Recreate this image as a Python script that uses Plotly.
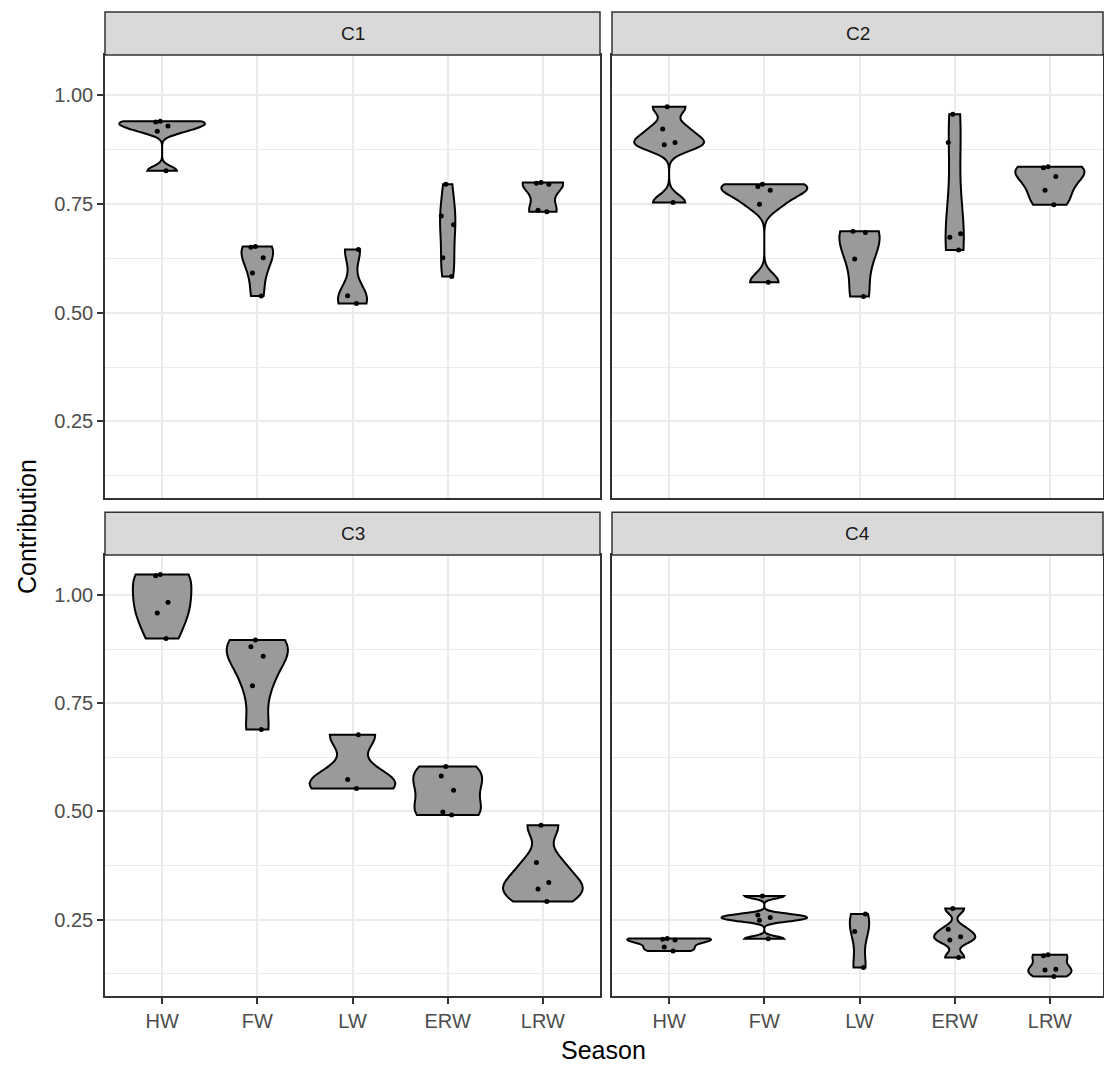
import numpy as np
import plotly.graph_objects as go
from plotly.subplots import make_subplots

seasons = ["HW", "FW", "LW", "ERW", "LRW"]
panels = ["C1", "C2", "C3", "C4"]

c1_values = {
    "HW": [0.940, 0.938, 0.929, 0.917, 0.826],
    "FW": [0.652, 0.650, 0.626, 0.591, 0.538],
    "LW": [0.645, 0.539, 0.521],
    "ERW": [0.795, 0.722, 0.702, 0.626, 0.583],
    "LRW": [0.799, 0.797, 0.795, 0.735, 0.732],
}
c2_values = {
    "HW": [0.973, 0.922, 0.891, 0.886, 0.753],
    "FW": [0.795, 0.790, 0.781, 0.749, 0.570],
    "LW": [0.687, 0.684, 0.623, 0.537],
    "ERW": [0.956, 0.891, 0.681, 0.673, 0.644],
    "LRW": [0.835, 0.833, 0.813, 0.781, 0.748],
}
c3_values = {
    "HW": [1.047, 1.044, 0.983, 0.958, 0.899],
    "FW": [0.896, 0.880, 0.858, 0.790, 0.689],
    "LW": [0.677, 0.574, 0.553],
    "ERW": [0.604, 0.582, 0.549, 0.499, 0.492],
    "LRW": [0.468, 0.382, 0.336, 0.321, 0.292],
}
c4_values = {
    "HW": [0.207, 0.205, 0.203, 0.187, 0.178],
    "FW": [0.305, 0.261, 0.255, 0.249, 0.206],
    "LW": [0.263, 0.223, 0.140],
    "ERW": [0.276, 0.228, 0.211, 0.203, 0.163],
    "LRW": [0.169, 0.167, 0.136, 0.134, 0.119],
}
y_ticks = [0.25, 0.50, 0.75, 1.00]
y_minor = [0.125, 0.375, 0.625, 0.875]

panel_data = [c1_values, c2_values, c3_values, c4_values]
positions = [(1, 1), (1, 2), (2, 1), (2, 2)]


def bw_nrd0(x):
    x = np.asarray(x, dtype=float)
    hi = x.std(ddof=1)
    q75, q25 = np.percentile(x, [75, 25])
    lo = min(hi, (q75 - q25) / 1.34)
    if lo == 0:
        lo = hi if hi > 0 else (abs(x[0]) if x[0] != 0 else 1.0)
    return 0.9 * lo * len(x) ** (-0.2)


def max_density(x, bw):
    x = np.asarray(x, dtype=float)
    grid = np.linspace(x.min(), x.max(), 512)
    d = np.exp(-0.5 * ((grid[:, None] - x[None, :]) / bw) ** 2).sum(axis=1)
    d = d / (len(x) * bw * np.sqrt(2 * np.pi))
    return d.max()


FONT = "Liberation Sans, Arial, sans-serif"
GRID = "#EBEBEB"
DARK = "#333333"

fig = make_subplots(rows=2, cols=2)

for pdata, (r, c) in zip(panel_data, positions):
    bws = {s: bw_nrd0(pdata[s]) for s in seasons}
    mds = {s: max_density(pdata[s], bws[s]) for s in seasons}
    mmax = max(mds.values())
    for s in seasons:
        w = 0.9 * mds[s] / mmax
        fig.add_trace(
            go.Violin(
                x=[s] * len(pdata[s]),
                y=pdata[s],
                bandwidth=bws[s],
                spanmode="hard",
                scalemode="width",
                width=w,
                fillcolor="#9A9A9A",
                line=dict(color="black", width=2),
                opacity=1,
                points="all",
                pointpos=0,
                jitter=min(1.0, 0.16 / w),
                marker=dict(color="black", size=5, line=dict(width=0)),
                box_visible=False,
                meanline_visible=False,
                showlegend=False,
                hoverinfo="y",
            ),
            row=r,
            col=c,
        )

W_PX = 998.0
left_dom = [0, 495 / W_PX]
right_dom = [507 / W_PX, 1]
top_dom = [(996 - 498) / 996, (996 - 55) / 996]
bot_dom = [0, (996 - 555) / 996]
unit_px = 495 / 5.2
right_range = [-0.6, -0.6 + (W_PX - 507) / unit_px]

axis_map = {
    (1, 1): ("xaxis", "yaxis", left_dom, top_dom),
    (1, 2): ("xaxis2", "yaxis2", right_dom, top_dom),
    (2, 1): ("xaxis3", "yaxis3", left_dom, bot_dom),
    (2, 2): ("xaxis4", "yaxis4", right_dom, bot_dom),
}

for (r, c), (xa, ya, xd, yd) in axis_map.items():
    show_x = r == 2
    show_y = c == 1
    fig.layout[xa].update(
        domain=xd,
        type="category",
        categoryorder="array",
        categoryarray=seasons,
        range=[-0.6, 4.6] if c == 1 else right_range,
        showgrid=True,
        gridcolor=GRID,
        gridwidth=1.6,
        zeroline=False,
        showline=True,
        mirror=True,
        linecolor=DARK,
        linewidth=1.5,
        ticks="outside" if show_x else "",
        ticklen=6,
        tickwidth=1.5,
        tickcolor=DARK,
        showticklabels=show_x,
        tickfont=dict(family=FONT, size=20, color="#4D4D4D"),
    )
    fig.layout[ya].update(
        domain=yd,
        range=[0.074, 1.092],
        tickvals=y_ticks,
        ticktext=[f"{v:.2f}" for v in y_ticks],
        showgrid=True,
        gridcolor=GRID,
        gridwidth=1.6,
        minor=dict(tickvals=y_minor, showgrid=True, gridcolor=GRID, gridwidth=0.9, ticks=""),
        zeroline=False,
        showline=True,
        mirror=True,
        linecolor=DARK,
        linewidth=1.5,
        ticks="outside" if show_y else "",
        ticklen=6,
        tickwidth=1.5,
        tickcolor=DARK,
        showticklabels=show_y,
        tickfont=dict(family=FONT, size=20, color="#4D4D4D"),
    )

# Facet strips
strip_top = 1 + 43 / 443
for name, (xa, ya, xd, yd) in zip(panels, axis_map.values()):
    xr = xa.replace("axis", "") + " domain"
    yr = ya.replace("axis", "") + " domain"
    fig.add_shape(
        type="rect", xref=xr, yref=yr, x0=0, x1=1, y0=1, y1=strip_top,
        fillcolor="#D9D9D9", line=dict(color=DARK, width=1.5), layer="above",
    )
    fig.add_annotation(
        xref=xr, yref=yr, x=0.5, y=(1 + strip_top) / 2, text=name, showarrow=False,
        xanchor="center", yanchor="middle",
        font=dict(family=FONT, size=19, color="#1A1A1A"),
    )

fig.add_annotation(
    xref="paper", yref="paper", x=(27 - 105) / W_PX, y=(996 - 527) / 996,
    text="Contribution", textangle=-90, showarrow=False,
    xanchor="center", yanchor="middle",
    font=dict(family=FONT, size=25, color="black"),
)
fig.add_annotation(
    xref="paper", yref="paper", x=(603 - 105) / W_PX, y=(996 - 1050) / 996,
    text="Season", showarrow=False, xanchor="center", yanchor="middle",
    font=dict(family=FONT, size=25, color="black"),
)

fig.update_layout(
    width=1104,
    height=1070,
    margin=dict(l=105, r=1, t=0, b=74),
    paper_bgcolor="white",
    plot_bgcolor="white",
    violinmode="overlay",
    showlegend=False,
    font=dict(family=FONT),
)

fig.write_html("out.html")
